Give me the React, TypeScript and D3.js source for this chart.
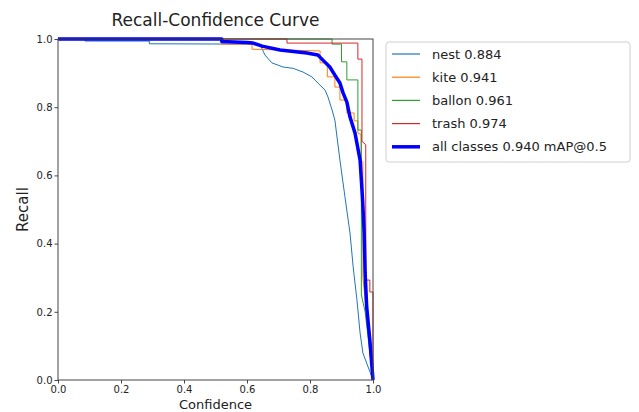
import React, { useRef, useEffect } from "react";
import * as d3 from "d3";

// confidence / recall pairs
const nestConf = [0, 0.086, 0.086, 0.29, 0.29, 0.6, 0.641, 0.657, 0.679, 0.714, 0.746, 0.778, 0.806, 0.825, 0.848, 0.857, 0.87, 0.879, 0.895, 0.911, 0.927, 0.937, 0.949, 0.959, 0.968, 1.0];
const nestRecall = [1.0, 1.0, 0.994, 0.994, 0.986, 0.985, 0.985, 0.953, 0.93, 0.918, 0.914, 0.903, 0.889, 0.871, 0.85, 0.83, 0.792, 0.762, 0.645, 0.537, 0.431, 0.332, 0.235, 0.138, 0.079, 0.0];

const kiteConf = [0, 0.52, 0.52, 0.616, 0.616, 0.832, 0.832, 0.855, 0.855, 0.879, 0.879, 0.895, 0.895, 0.917, 0.917, 0.94, 0.94, 0.952, 0.952, 0.962, 0.962, 0.968, 0.968, 0.98, 1.0];
const kiteRecall = [1.0, 1.0, 0.985, 0.985, 0.97, 0.965, 0.93, 0.93, 0.889, 0.889, 0.859, 0.859, 0.821, 0.821, 0.783, 0.783, 0.76, 0.76, 0.724, 0.72, 0.645, 0.64, 0.3, 0.19, 0.0];

const ballonConf = [0, 0.87, 0.87, 0.9, 0.9, 0.917, 0.917, 0.952, 0.952, 0.963, 0.963, 0.975, 1.0];
const ballonRecall = [1.0, 1.0, 0.985, 0.985, 0.933, 0.933, 0.88, 0.88, 0.733, 0.733, 0.25, 0.2, 0.0];

const trashConf = [0, 0.727, 0.727, 0.952, 0.952, 0.965, 0.965, 0.977, 0.977, 0.99, 0.99, 1.0, 1.0];
const trashRecall = [1.0, 1.0, 0.988, 0.988, 0.941, 0.941, 0.7, 0.69, 0.293, 0.293, 0.258, 0.258, 0.0];

const allConf = [0, 0.52, 0.52, 0.6, 0.619, 0.648, 0.705, 0.79, 0.825, 0.841, 0.863, 0.879, 0.895, 0.905, 0.917, 0.927, 0.943, 0.959, 0.967, 0.972, 0.975, 0.98, 0.99, 1.0];
const allRecall = [1.0, 1.0, 0.993, 0.99, 0.988, 0.979, 0.968, 0.959, 0.953, 0.938, 0.918, 0.894, 0.871, 0.842, 0.815, 0.771, 0.724, 0.645, 0.528, 0.431, 0.314, 0.214, 0.117, 0.0];

const seriesNames = ["nest 0.884", "kite 0.941", "ballon 0.961", "trash 0.974", "all classes 0.940 mAP@0.5"];
const seriesColors = ["#1f77b4", "#ff7f0e", "#2ca02c", "#d62728", "#0000ff"];
const tickValues = [0, 0.2, 0.4, 0.6, 0.8, 1.0];

const FONT = "DejaVu Sans, sans-serif";

const App = () => {
  const svgRef = useRef<SVGSVGElement>(null);

  useEffect(() => {
    const width = 639;
    const height = 412;
    const margin = { top: 39, left: 58, right: 266, bottom: 32 };
    const innerW = width - margin.left - margin.right;
    const innerH = height - margin.top - margin.bottom;

    const svg = d3.select(svgRef.current);
    svg.selectAll("*").remove();
    svg.attr("width", width).attr("height", height);

    svg.append("rect").attr("width", width).attr("height", height).attr("fill", "#fff");

    const x = d3.scaleLinear().domain([0, 1]).range([0, innerW]);
    const y = d3.scaleLinear().domain([0, 1]).range([innerH, 0]);

    const g = svg.append("g").attr("transform", `translate(${margin.left},${margin.top})`);

    const series = [
      { conf: nestConf, recall: nestRecall, w: 1 },
      { conf: kiteConf, recall: kiteRecall, w: 1 },
      { conf: ballonConf, recall: ballonRecall, w: 1 },
      { conf: trashConf, recall: trashRecall, w: 1 },
      { conf: allConf, recall: allRecall, w: 3.5 },
    ];

    const line = d3
      .line<[number, number]>()
      .x((d) => x(d[0]))
      .y((d) => y(d[1]));

    const clip = g.append("clipPath").attr("id", "plotclip");
    clip.append("rect").attr("x", -2).attr("y", -2).attr("width", innerW + 4).attr("height", innerH + 4);

    const lines = g.append("g").attr("clip-path", "url(#plotclip)");
    series.forEach((s, i) => {
      const pts = s.conf.map((c, j) => [c, s.recall[j]] as [number, number]);
      lines
        .append("path")
        .datum(pts)
        .attr("fill", "none")
        .attr("stroke", seriesColors[i])
        .attr("stroke-width", s.w)
        .attr("stroke-linejoin", "round")
        .attr("d", line);
    });

    // frame
    g.append("rect")
      .attr("x", 0)
      .attr("y", 0)
      .attr("width", innerW)
      .attr("height", innerH)
      .attr("fill", "none")
      .attr("stroke", "#444")
      .attr("stroke-width", 1);

    const xAxis = g
      .append("g")
      .attr("transform", `translate(0,${innerH})`)
      .call(d3.axisBottom(x).tickValues(tickValues).tickFormat(d3.format(".1f")).tickSize(3.5).tickPadding(2));
    const yAxis = g
      .append("g")
      .call(d3.axisLeft(y).tickValues(tickValues).tickFormat(d3.format(".1f")).tickSize(3.5).tickPadding(2));

    [xAxis, yAxis].forEach((a) => {
      a.select(".domain").remove();
      a.selectAll("line").attr("stroke", "#444");
      a.selectAll("text").attr("fill", "#222").style("font-family", FONT).style("font-size", "10px");
    });

    // title and labels
    svg
      .append("text")
      .attr("x", margin.left + innerW / 2)
      .attr("y", 26)
      .attr("text-anchor", "middle")
      .style("font-family", FONT)
      .style("font-size", "17px")
      .attr("fill", "#222")
      .text("Recall-Confidence Curve");

    svg
      .append("text")
      .attr("x", margin.left + innerW / 2)
      .attr("y", 409)
      .attr("text-anchor", "middle")
      .style("font-family", FONT)
      .style("font-size", "13px")
      .attr("fill", "#222")
      .text("Confidence");

    svg
      .append("text")
      .attr("transform", `translate(28,${margin.top + innerH / 2}) rotate(-90)`)
      .attr("text-anchor", "middle")
      .style("font-family", FONT)
      .style("font-size", "15px")
      .attr("fill", "#222")
      .text("Recall");

    // legend
    const legend = svg.append("g").attr("transform", "translate(386,42)");
    legend
      .append("rect")
      .attr("width", 244)
      .attr("height", 120)
      .attr("rx", 3)
      .attr("fill", "#fff")
      .attr("stroke", "#d0d0d0");

    seriesNames.forEach((name, i) => {
      const ly = 12 + i * 23.2;
      legend
        .append("line")
        .attr("x1", 6)
        .attr("x2", 34)
        .attr("y1", ly)
        .attr("y2", ly)
        .attr("stroke", seriesColors[i])
        .attr("stroke-width", i === 4 ? 3.5 : 1.2);
      legend
        .append("text")
        .attr("x", 46)
        .attr("y", ly)
        .attr("dy", "0.35em")
        .style("font-family", FONT)
        .style("font-size", "13px")
        .attr("fill", "#222")
        .text(name);
    });
  }, []);

  return (
    <div style={{ position: "absolute", left: 0, top: 0 }}>
      <svg ref={svgRef} style={{ display: "block" }} />
    </div>
  );
};

export default App;
